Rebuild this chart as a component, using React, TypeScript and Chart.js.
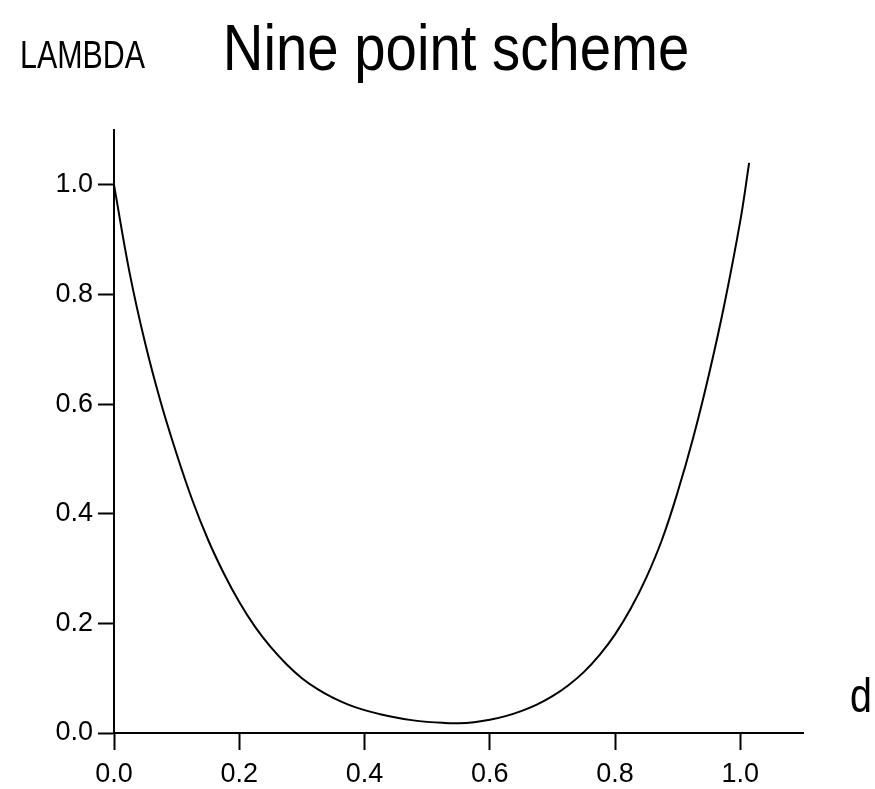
import React, { useEffect, useRef } from "react";
import { Chart, registerables } from "chart.js";
Chart.register(...registerables);

// ---- data ----
const dValues = [0, 0.025, 0.05, 0.075, 0.1, 0.125, 0.15, 0.175, 0.2, 0.225, 0.25, 0.275, 0.3, 0.325, 0.35, 0.375, 0.4, 0.425, 0.45, 0.475, 0.5, 0.525, 0.55, 0.575, 0.6, 0.625, 0.65, 0.675, 0.7, 0.725, 0.75, 0.775, 0.8, 0.825, 0.85, 0.875, 0.9, 0.925, 0.95, 0.975, 1.0, 1.014];
const lambdaValues = [1.0, 0.839, 0.71, 0.602, 0.509, 0.425, 0.353, 0.292, 0.239, 0.194, 0.157, 0.126, 0.1, 0.08, 0.064, 0.0514, 0.0417, 0.0343, 0.0282, 0.0235, 0.0203, 0.0185, 0.018, 0.0198, 0.024, 0.0308, 0.04, 0.0518, 0.0672, 0.0867, 0.111, 0.142, 0.18, 0.227, 0.284, 0.353, 0.44, 0.54, 0.655, 0.785, 0.935, 1.04];
const xTicks = [0, 0.2, 0.4, 0.6, 0.8, 1.0];
const xTickLabels = ["0.0", "0.2", "0.4", "0.6", "0.8", "1.0"];
const yTicks = [0, 0.2, 0.4, 0.6, 0.8, 1.0];
const yTickLabels = ["0.0", "0.2", "0.4", "0.6", "0.8", "1.0"];
const chartTitle = "Nine point scheme";
const yAxisTitle = "LAMBDA";
const xAxisTitle = "d";

const FONT = '"Liberation Sans", Arial, sans-serif';

function drawCondensed(ctx: CanvasRenderingContext2D, text: string, x: number, y: number, size: number, sx: number, align: CanvasTextAlign) {
  ctx.save();
  ctx.translate(x, y);
  ctx.scale(sx, 1);
  ctx.font = `normal ${size}px ${FONT}`;
  ctx.fillStyle = "#000";
  ctx.textAlign = align;
  ctx.textBaseline = "alphabetic";
  ctx.fillText(text, 0, 0);
  ctx.restore();
}

const textPlugin = {
  id: "freeTexts",
  afterDraw(chart: any) {
    const ctx = chart.ctx as CanvasRenderingContext2D;
    const area = chart.chartArea;
    drawCondensed(ctx, chartTitle, 456, 70, 64, 0.88, "center");
    drawCondensed(ctx, yAxisTitle, 20, 68, 38, 0.8, "left");
    drawCondensed(ctx, xAxisTitle, area.right + 47, area.bottom - 21, 48, 0.82, "left");
  },
};

export default function App() {
  const ref = useRef<HTMLCanvasElement | null>(null);
  useEffect(() => {
    document.body.style.margin = "0";
    const canvas = ref.current!;
    const chart = new Chart(canvas, {
      type: "line",
      data: {
        datasets: [
          {
            data: dValues.map((d, i) => ({ x: d, y: lambdaValues[i] })),
            borderColor: "#000",
            borderWidth: 2,
            pointRadius: 0,
            fill: false,
            tension: 0.4,
          },
        ],
      },
      options: {
        animation: false,
        responsive: false,
        devicePixelRatio: 1,
        layout: { padding: { top: 130, right: 72, left: 0, bottom: 0 } },
        plugins: { legend: { display: false }, tooltip: { enabled: false }, title: { display: false } },
        scales: {
          x: {
            type: "linear",
            min: 0,
            max: 1.1,
            afterBuildTicks: (s: any) => { s.ticks = xTicks.map((v) => ({ value: v })); },
            afterFit: (s: any) => { s.height = 56; },
            ticks: {
              callback: (_v: any, i: number) => xTickLabels[i],
              color: "#000",
              font: { family: FONT, size: 27 },
              padding: 8,
              maxRotation: 0,
              autoSkip: false,
            },
            grid: { display: true, drawOnChartArea: false, drawTicks: true, tickLength: 17, tickWidth: 2, tickColor: "#000", color: "#000" },
            border: { display: true, color: "#000", width: 2 },
          },
          y: {
            type: "linear",
            min: 0,
            max: 1.1,
            afterBuildTicks: (s: any) => { s.ticks = yTicks.map((v) => ({ value: v })); },
            afterFit: (s: any) => { s.width = 114; },
            ticks: {
              callback: (_v: any, i: number) => yTickLabels[i],
              color: "#000",
              font: { family: FONT, size: 27 },
              padding: 5,
              autoSkip: false,
            },
            grid: { display: true, drawOnChartArea: false, drawTicks: true, tickLength: 16, tickWidth: 2, tickColor: "#000", color: "#000" },
            border: { display: true, color: "#000", width: 2 },
          },
        },
      },
      plugins: [textPlugin],
    } as any);
    return () => chart.destroy();
  }, []);
  return (
    <div style={{ width: 875, height: 789, background: "#fff" }}>
      <canvas ref={ref} width={875} height={789} style={{ display: "block", width: 875, height: 789 }} />
    </div>
  );
}
